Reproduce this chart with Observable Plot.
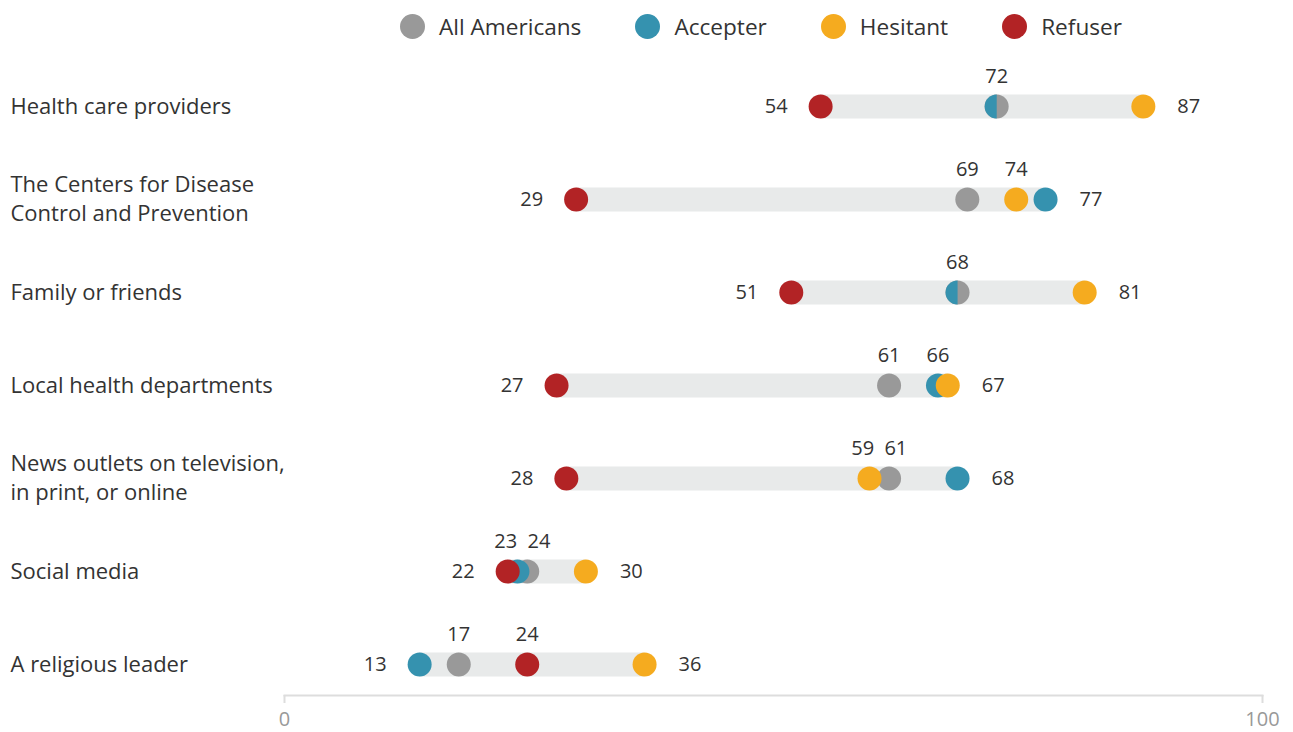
<!DOCTYPE html>
<html>
<head>
<meta charset="utf-8">
<script src="https://cdn.jsdelivr.net/npm/d3@7"></script>
<script src="https://cdn.jsdelivr.net/npm/@observablehq/plot@0.6"></script>
<style>
  html, body { margin: 0; padding: 0; background: #fff; }
  body { width: 1293px; font-family: "Open Sans", sans-serif; color: #333; }
  #legend { position: relative; height: 52px; }
  #legend .items { position: absolute; left: 400px; top: 0; height: 52px; display: flex; align-items: center; gap: 54px; }
  #legend .item { display: flex; align-items: center; font-size: 22.6px; color: #333; }
  #legend .sw { width: 25px; height: 25px; border-radius: 50%; margin-right: 14px; }
  #chart svg { display: block; }
</style>
</head>
<body>
<div id="legend"><div class="items"></div></div>
<div id="chart"></div>
<script>
const categories = [
  "Health care providers",
  "The Centers for Disease\nControl and Prevention",
  "Family or friends",
  "Local health departments",
  "News outlets on television,\nin print, or online",
  "Social media",
  "A religious leader"
];
const seriesNames = ["All Americans", "Accepter", "Hesitant", "Refuser"];
const seriesColors = ["#999999", "#3592af", "#f5ab1f", "#b22325"];
const allAmericans = [72, 69, 68, 61, 61, 24, 17];
const accepter     = [72, 77, 68, 66, 68, 23, 13];
const hesitant     = [87, 74, 81, 67, 59, 30, 36];
const refuser      = [54, 29, 51, 27, 28, 22, 24];
const xTicks = [0, 100];

const seriesValues = [allAmericans, accepter, hesitant, refuser];

// legend
const items = document.querySelector("#legend .items");
seriesNames.forEach((name, i) => {
  const it = document.createElement("div");
  it.className = "item";
  it.innerHTML = `<span class="sw" style="background:${seriesColors[i]}"></span><span>${name}</span>`;
  items.appendChild(it);
});

// tidy rows
const rows = [];
categories.forEach((cat, i) => {
  seriesNames.forEach((s, j) => rows.push({cat, series: s, idx: j, value: seriesValues[j][i], tieAll: j === 1 && accepter[i] === allAmericans[i]}));
});

const ranges = categories.map((cat, i) => {
  const v = seriesValues.map(a => a[i]);
  return {cat, min: d3.min(v), max: d3.max(v)};
});

// labels
const pxPerUnit = 9.75, minSep = 33;
const minLabels = [], maxLabels = [], aboveLabels = [];
categories.forEach((cat, i) => {
  const uniq = Array.from(new Set(seriesValues.map(a => a[i]))).sort((a, b) => a - b);
  minLabels.push({cat, value: uniq[0]});
  maxLabels.push({cat, value: uniq[uniq.length - 1]});
  const mids = uniq.slice(1, -1);
  let clusters = mids.map(v => ({vals: [v]}));
  const layout = c => {
    const mean = d3.mean(c.vals) * pxPerUnit;
    const n = c.vals.length;
    return c.vals.map((v, k) => mean + (k - (n - 1) / 2) * minSep);
  };
  let changed = true;
  while (changed) {
    changed = false;
    for (let k = 0; k < clusters.length - 1; k++) {
      const a = layout(clusters[k]), b = layout(clusters[k + 1]);
      if (b[0] - a[a.length - 1] < minSep) {
        clusters.splice(k, 2, {vals: clusters[k].vals.concat(clusters[k + 1].vals)});
        changed = true;
        break;
      }
    }
  }
  clusters.forEach(c => {
    const pos = layout(c);
    c.vals.forEach((v, k) => aboveLabels.push({cat, value: v, lx: pos[k] / pxPerUnit}));
  });
});

const halfLeft = {
  draw(ctx, size) {
    const r = Math.sqrt(size / Math.PI);
    ctx.moveTo(0, -r);
    ctx.arc(0, 0, r, -Math.PI / 2, Math.PI / 2, true);
    ctx.closePath();
  }
};

const shift = 8;
const dotMarks = [];
seriesNames.forEach((s, j) => {
  const data = rows.filter(d => d.idx === j);
  if (j === 1) {
    dotMarks.push(Plot.dot(data.filter(d => !d.tieAll), {x: "value", y: "cat", r: 12, fill: seriesColors[j], dx: shift}));
    dotMarks.push(Plot.dot(data.filter(d => d.tieAll), {x: "value", y: "cat", r: 12, fill: seriesColors[j], symbol: halfLeft, dx: shift}));
  } else {
    dotMarks.push(Plot.dot(data, {x: "value", y: "cat", r: 12, fill: seriesColors[j], dx: shift}));
  }
});

const chart = Plot.plot({
  width: 1293,
  height: 680,
  marginTop: 0,
  marginBottom: 37,
  marginLeft: 284,
  marginRight: 31,
  style: {fontFamily: "'Open Sans', sans-serif", fontSize: "20px", color: "#333", background: "#fff"},
  x: {domain: [0, 100]},
  y: {type: "point", domain: categories, range: [53, 613], padding: 0},
  marks: [
    Plot.frame({anchor: "bottom", stroke: "#dddddd", strokeWidth: 2}),
    Plot.axisX({ticks: xTicks, tickSize: 8, tickPadding: 8, stroke: "#dddddd", strokeWidth: 2, fill: "#999999", fontSize: 20, label: null, tickFormat: d => String(d)}),
    Plot.axisY({anchor: "left", tickSize: 0, tickPadding: 0, textAnchor: "start", dx: -274, dy: -2, fontSize: 22, lineHeight: 1.32, fill: "#333333", label: null}),
    Plot.ruleY(ranges, {y: "cat", x1: "min", x2: "max", stroke: "#e8eaea", strokeWidth: 24, dx: shift}),
    ...dotMarks,
    Plot.text(minLabels, {x: "value", y: "cat", text: d => String(d.value), textAnchor: "end", dx: shift - 33, fill: "#333333", fontSize: 20}),
    Plot.text(maxLabels, {x: "value", y: "cat", text: d => String(d.value), textAnchor: "start", dx: shift + 34, fill: "#333333", fontSize: 20}),
    Plot.text(aboveLabels, {x: "lx", y: "cat", text: d => String(d.value), dx: shift, dy: -30, fill: "#333333", fontSize: 20})
  ]
});
document.getElementById("chart").appendChild(chart);
</script>
</body>
</html>
